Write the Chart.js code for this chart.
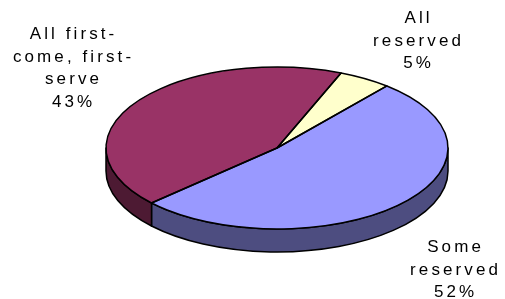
<!DOCTYPE html>
<html>
<head>
<meta charset="utf-8">
<script src="https://cdn.jsdelivr.net/npm/chart.js@4.4.0/dist/chart.umd.min.js"></script>
<style>
  html, body { margin: 0; padding: 0; background: #fff; }
  #wrap { width: 505px; height: 299px; }
</style>
</head>
<body>
<div id="wrap"><canvas id="pie" width="505" height="299"></canvas></div>
<script>
const categories = ["All reserved", "Some reserved", "All first-come, first-serve"];
const labelLines = [["All", "reserved"], ["Some", "reserved"], ["All first-", "come, first-", "serve"]];
const percents = [5, 52, 43];
const topColors = ["#FFFFCC", "#9999FF", "#993366"];
const sideColors = ["#80806A", "#4D4D80", "#4D1A33"];

// where the tilted pie sits on the page
const CX = 277, CY = 148, RX = 171, RY = 81, DEPTH = 23;
// label block centres (x) and first baseline (y)
const labelPos = [[417, 23], [454, 252], [72, 39]];
const LINE_H = 22.7;
const SPACING = 3.1;

const arcAngles = (arc) => arc.getProps(["startAngle", "endAngle"], true);

const pie3d = {
  id: "pie3d",
  beforeDatasetsDraw(chart) {
    const ctx = chart.ctx;
    const arcs = chart.getDatasetMeta(0).data;

    // side walls, only the front half is visible
    ctx.save();
    ctx.lineWidth = 1.5;
    ctx.strokeStyle = "#000";
    ctx.lineJoin = "round";
    arcs.forEach((arc, i) => {
      const { startAngle, endAngle } = arcAngles(arc);
      [-2 * Math.PI, 0, 2 * Math.PI].forEach(off => {
        const a = Math.max(startAngle, off);
        const b = Math.min(endAngle, off + Math.PI);
        if (b <= a) return;
        ctx.beginPath();
        ctx.ellipse(CX, CY, RX, RY, 0, a, b);
        ctx.lineTo(CX + RX * Math.cos(b), CY + RY * Math.sin(b) + DEPTH);
        ctx.ellipse(CX, CY + DEPTH, RX, RY, 0, b, a, true);
        ctx.closePath();
        ctx.fillStyle = sideColors[i];
        ctx.fill();
        ctx.stroke();
      });
    });
    ctx.restore();

    // squash the library's round pie into the ellipse
    const first = arcs[0];
    ctx.save();
    ctx.translate(CX, CY);
    ctx.scale(RX / first.outerRadius, RY / first.outerRadius);
    ctx.translate(-first.x, -first.y);
  },
  afterDatasetsDraw(chart) {
    const ctx = chart.ctx;
    ctx.restore();
    const arcs = chart.getDatasetMeta(0).data;

    ctx.save();
    ctx.lineWidth = 1.5;
    ctx.strokeStyle = "#000";
    ctx.lineJoin = "round";
    arcs.forEach(arc => {
      const { startAngle, endAngle } = arcAngles(arc);
      ctx.beginPath();
      ctx.moveTo(CX, CY);
      ctx.ellipse(CX, CY, RX, RY, 0, startAngle, endAngle);
      ctx.closePath();
      ctx.stroke();
    });
    ctx.restore();

    // labels
    ctx.save();
    ctx.font = "17px 'Liberation Sans', Arial, sans-serif";
    ctx.letterSpacing = SPACING + "px";
    ctx.fillStyle = "#000";
    ctx.textAlign = "left";
    ctx.textBaseline = "alphabetic";
    labelLines.forEach((lines, i) => {
      const all = lines.concat([percents[i] + "%"]);
      const [x, y] = labelPos[i];
      all.forEach((line, j) => {
        const w = ctx.measureText(line).width - SPACING;
        ctx.fillText(line, x - w / 2, y + j * LINE_H);
      });
    });
    ctx.restore();
  }
};

new Chart(document.getElementById("pie"), {
  type: "pie",
  data: {
    labels: categories,
    datasets: [{
      data: percents,
      backgroundColor: topColors,
      borderWidth: 0,
      clip: false
    }]
  },
  options: {
    responsive: false,
    animation: false,
    rotation: 22,
    layout: { padding: 0 },
    plugins: {
      legend: { display: false },
      tooltip: { enabled: false }
    }
  },
  plugins: [pie3d]
});
</script>
</body>
</html>
